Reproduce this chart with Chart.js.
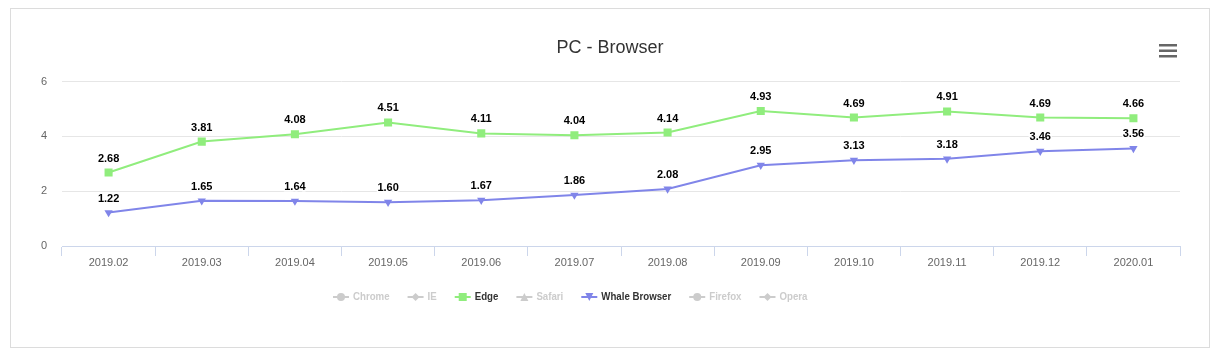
<!doctype html>
<html lang="en">
  <head>
    <title>PC - Browser</title>
    <script src="https://cdn.jsdelivr.net/npm/chart.js"></script>
    <style>
      body { margin: 0; background: #fff; }
      #box {
        position: absolute;
        left: 10px;
        top: 8px;
        width: 1198px;
        height: 338px;
        border: 1px solid #dcdcdc;
      }
    </style>
  </head>
  <body>
    <div id="box"><canvas id="browserChart"></canvas></div>

    <script>
      // months on the x axis
      const months = ['2019.02', '2019.03', '2019.04', '2019.05', '2019.06', '2019.07',
                      '2019.08', '2019.09', '2019.10', '2019.11', '2019.12', '2020.01'];

      // visible series (share, %)
      const edgeValues  = [2.68, 3.81, 4.08, 4.51, 4.11, 4.04, 4.14, 4.93, 4.69, 4.91, 4.69, 4.66];
      const whaleValues = [1.22, 1.65, 1.64, 1.60, 1.67, 1.86, 2.08, 2.95, 3.13, 3.18, 3.46, 3.56];

      // all series; the greyed ones are switched off in the legend (values not shown)
      const seriesNames  = ['Chrome', 'IE', 'Edge', 'Safari', 'Whale Browser', 'Firefox', 'Opera'];
      const seriesColors = ['#7cb5ec', '#434348', '#90ed7d', '#f7a35c', '#8085e9', '#f15c80', '#e4d354'];
      const seriesMarks  = ['circle', 'diamond', 'square', 'triangle', 'triangle-down', 'circle', 'diamond'];
      const seriesHidden = [true, true, false, true, false, true, true];

      const yTicks = [0, 2, 4, 6];

      const FONT = '"Liberation Sans", Arial, sans-serif';
      Chart.defaults.font.family = FONT;

      function chartPointStyle(mark) {
        if (mark === 'square') return 'rect';
        if (mark === 'diamond') return 'rectRot';
        if (mark === 'triangle' || mark === 'triangle-down') return 'triangle';
        return 'circle';
      }

      const datasets = seriesNames.map((name, i) => {
        let data = [];
        if (name === 'Edge') data = edgeValues;
        if (name === 'Whale Browser') data = whaleValues;
        const mark = seriesMarks[i];
        return {
          label: name,
          data: data,
          hidden: seriesHidden[i],
          borderColor: seriesColors[i],
          backgroundColor: seriesColors[i],
          borderWidth: 2,
          pointStyle: chartPointStyle(mark),
          pointRotation: mark === 'triangle-down' ? 180 : 0,
          pointRadius: mark === 'square' ? 5.7 : 4.8,
          pointBorderWidth: 0,
          mark: mark,
          tension: 0
        };
      });

      // small marker drawn in the legend
      function drawMark(ctx, mark, x, y, color) {
        ctx.save();
        ctx.fillStyle = color;
        ctx.beginPath();
        if (mark === 'square') {
          ctx.rect(x - 4, y - 4, 8, 8);
        } else if (mark === 'diamond') {
          ctx.moveTo(x, y - 4); ctx.lineTo(x + 4, y); ctx.lineTo(x, y + 4); ctx.lineTo(x - 4, y);
        } else if (mark === 'triangle') {
          ctx.moveTo(x, y - 4); ctx.lineTo(x + 4, y + 4); ctx.lineTo(x - 4, y + 4);
        } else if (mark === 'triangle-down') {
          ctx.moveTo(x - 4, y - 4); ctx.lineTo(x + 4, y - 4); ctx.lineTo(x, y + 4);
        } else {
          ctx.arc(x, y, 4, 0, Math.PI * 2);
        }
        ctx.closePath();
        ctx.fill();
        ctx.restore();
      }

      const extrasPlugin = {
        id: 'extras',
        afterDatasetsDraw(chart) {
          // value labels above the points
          const ctx = chart.ctx;
          ctx.save();
          ctx.font = 'bold 11px ' + FONT;
          ctx.textAlign = 'center';
          ctx.textBaseline = 'middle';
          ctx.lineJoin = 'round';
          chart.data.datasets.forEach((ds, i) => {
            if (!chart.isDatasetVisible(i)) return;
            chart.getDatasetMeta(i).data.forEach((pt, j) => {
              const txt = ds.data[j].toFixed(2);
              ctx.strokeStyle = '#fff';
              ctx.lineWidth = 3;
              ctx.strokeText(txt, pt.x, pt.y - 14);
              ctx.fillStyle = '#000';
              ctx.fillText(txt, pt.x, pt.y - 14);
            });
          });
          ctx.restore();
        },
        afterDraw(chart) {
          const ctx = chart.ctx;
          // legend: line + marker, then the name
          ctx.save();
          ctx.font = 'bold 11px ' + FONT;
          ctx.textBaseline = 'middle';
          ctx.textAlign = 'left';
          let x = 322;
          const cy = 288;
          chart.data.datasets.forEach((ds, i) => {
            const on = chart.isDatasetVisible(i);
            const color = on ? ds.borderColor : '#cccccc';
            ctx.strokeStyle = color;
            ctx.lineWidth = 2;
            ctx.beginPath();
            ctx.moveTo(x, cy);
            ctx.lineTo(x + 16, cy);
            ctx.stroke();
            drawMark(ctx, ds.mark, x + 8, cy, color);
            const w = ctx.measureText(ds.label).width * 0.88;
            ctx.fillStyle = on ? '#333333' : '#cccccc';
            ctx.fillText(ds.label, x + 20, cy, w);
            x += 20 + w + 18;
          });
          // context menu icon
          ctx.fillStyle = '#666';
          [35, 40.5, 46].forEach(y => ctx.fillRect(1148, y, 18, 2.5));
          ctx.restore();
        }
      };

      new Chart(document.getElementById('browserChart'), {
        type: 'line',
        data: { labels: months, datasets: datasets },
        plugins: [extrasPlugin],
        options: {
          responsive: true,
          maintainAspectRatio: false,
          animation: false,
          layout: { padding: { left: 0, right: 0, top: 0, bottom: 76 } },
          plugins: {
            tooltip: { enabled: false },
            legend: { display: false },
            title: {
              display: true,
              text: 'PC - Browser',
              color: '#333333',
              font: { size: 18, weight: 'normal', family: FONT },
              padding: { top: 28, bottom: 23 }
            }
          },
          scales: {
            x: {
              offset: true,
              grid: {
                offset: true,
                drawOnChartArea: false,
                drawTicks: true,
                tickLength: 10,
                color: '#ccd6eb'
              },
              border: { display: true, color: '#ccd6eb', width: 1 },
              ticks: { color: '#666666', font: { size: 11 }, padding: 0, maxRotation: 0, autoSkip: false },
              afterFit(scale) { scale.height = 25; }
            },
            y: {
              min: 0,
              max: 6,
              afterBuildTicks(scale) { scale.ticks = yTicks.map(v => ({ value: v })); },
              grid: { color: '#e6e6e6', drawTicks: false },
              border: { display: false },
              ticks: { color: '#666666', font: { size: 11 }, padding: 15 },
              afterFit(scale) { scale.width = 51; }
            },
            // empty right margin so the plot ends where the reference does
            yRight: {
              position: 'right',
              grid: { display: false },
              border: { display: false },
              ticks: { display: false },
              afterFit(scale) { scale.width = 29; }
            }
          }
        }
      });
    </script>
  </body>
</html>
